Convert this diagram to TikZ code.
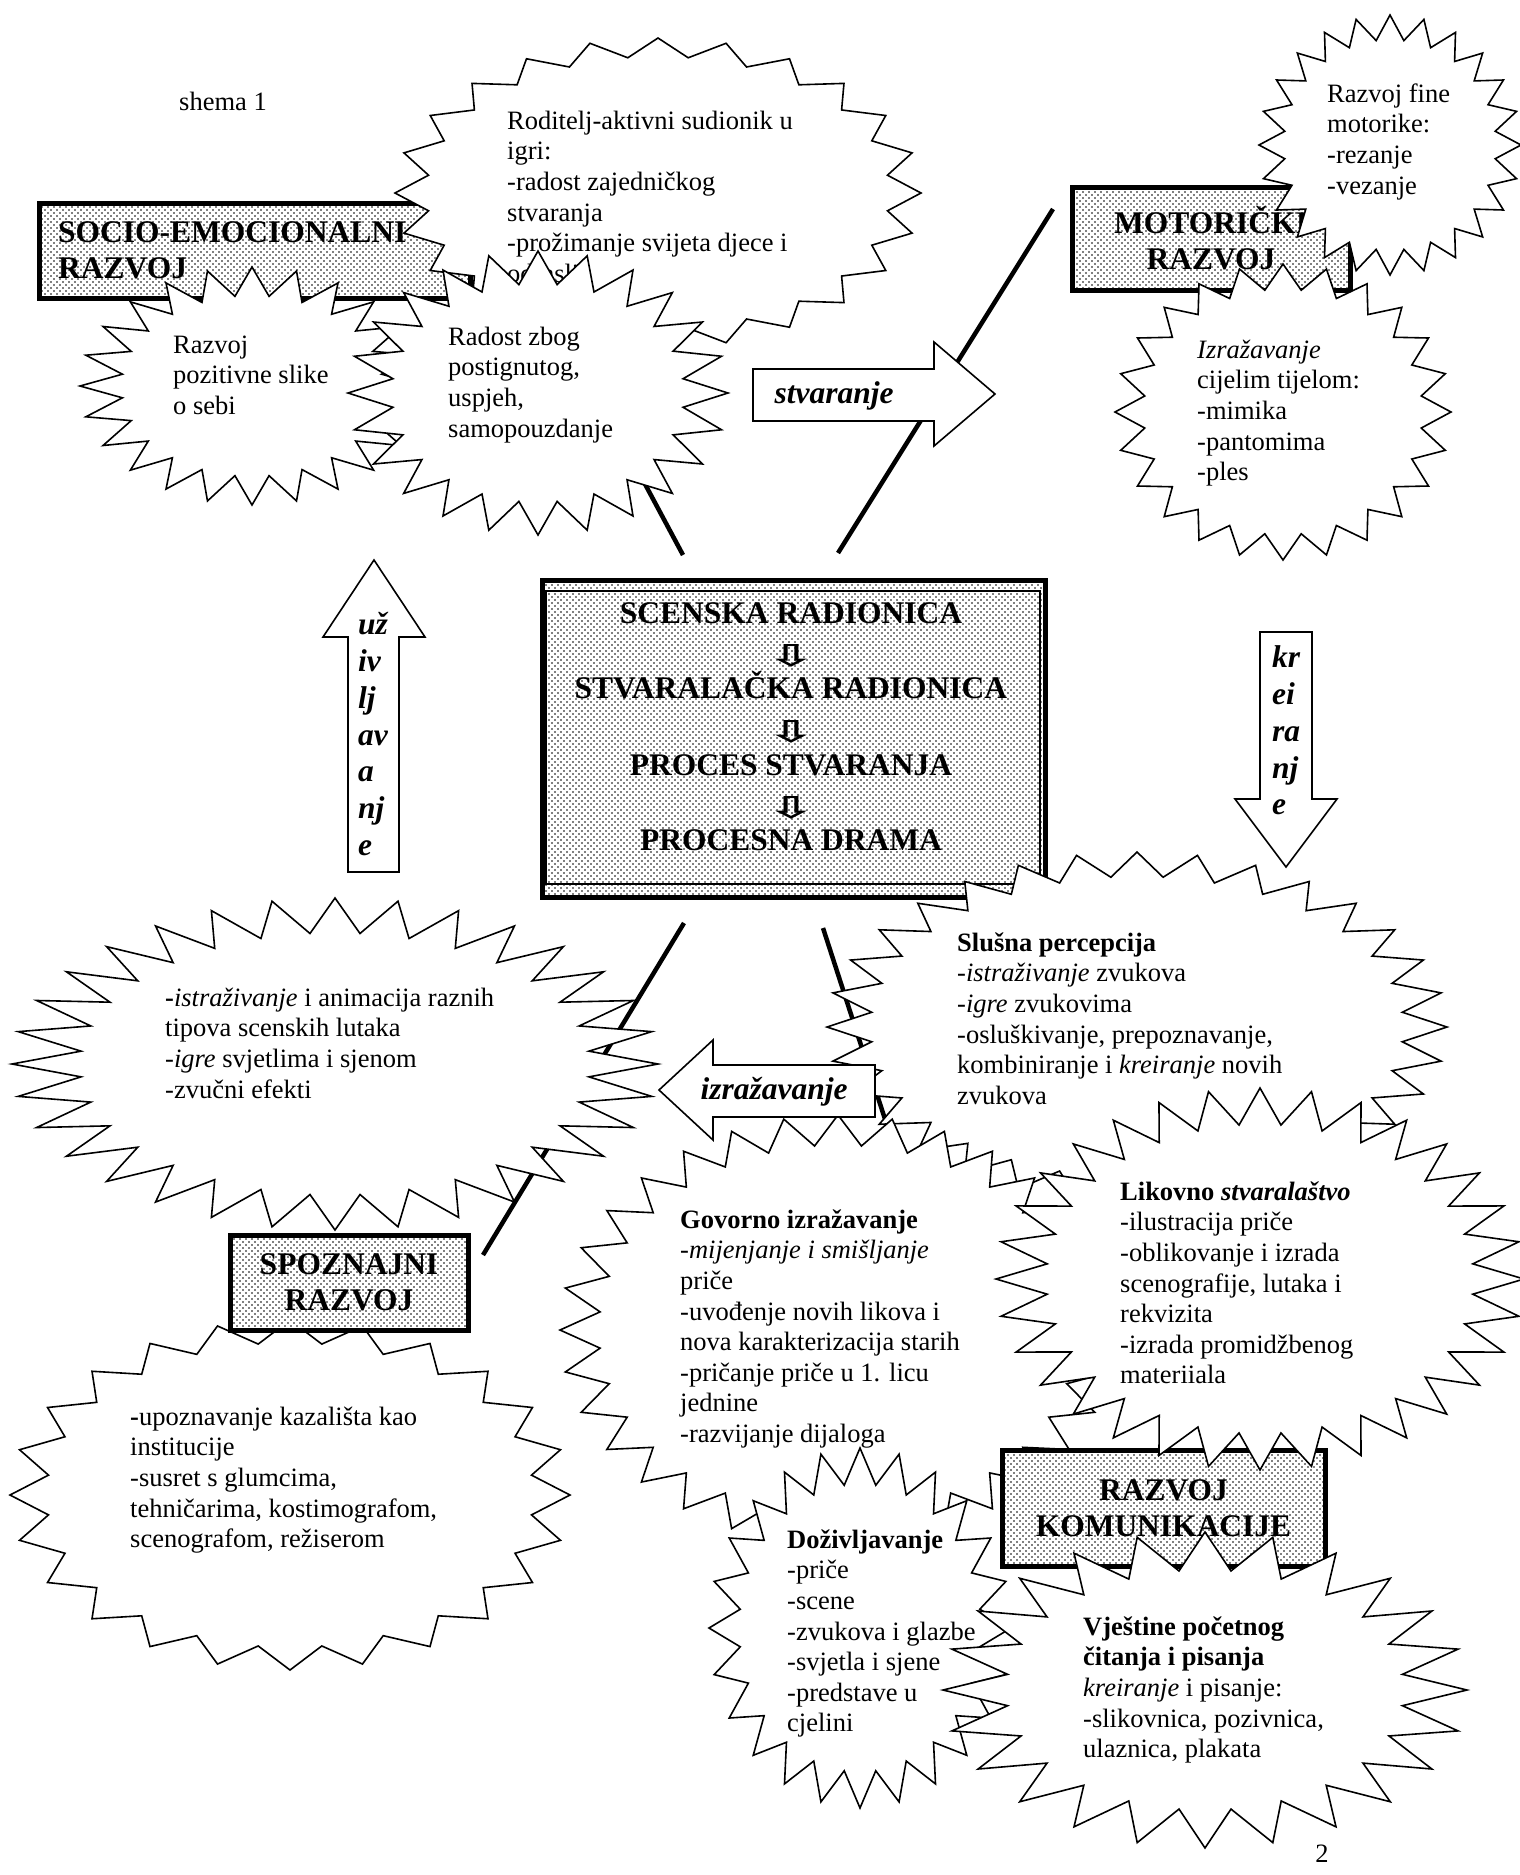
\documentclass[tikz,border=0pt]{standalone}
\usepackage{fontspec}
\setmainfont{Liberation Serif}
\newfontfamily\arrowfont{DejaVu Sans}
\usepackage{graphicx}
\usetikzlibrary{patterns}
\pgfdeclarepatternformonly{mydots}{\pgfqpoint{-1pt}{-1pt}}{\pgfqpoint{7pt}{7pt}}{\pgfqpoint{6pt}{6pt}}{%
  \pgfpathcircle{\pgfqpoint{0pt}{0pt}}{0.8pt}%
  \pgfpathcircle{\pgfqpoint{3pt}{3pt}}{0.8pt}%
  \pgfusepath{fill}}
\newcommand\bodyfont{\fontsize{26.5}{30.6}\selectfont}
\newcommand\titlefont{\fontsize{31.5}{36}\selectfont\bfseries}
\newcommand\arrowlabelfont{\fontsize{31.5}{36.7}\selectfont\bfseries\itshape}
\tikzset{
  burst/.style={draw=black, fill=white, line width=1.6pt, line join=miter},
  txt/.style={anchor=north west, inner sep=0pt, align=left, font=\bodyfont},
  dotbox/.style={draw=black, line width=5pt, preaction={fill=white}, pattern=mydots, pattern color=black, inner sep=0pt, align=center, font=\titlefont},
  blockarrow/.style={draw=black, fill=white, line width=1.6pt, line join=miter},
  link/.style={line width=4.5pt},
  arrowlabel/.style={inner sep=0pt, font=\arrowlabelfont},
  downglyph/.style={inner sep=0pt},
}
% cx cy rx ry points ratio
\newcommand\starburst[6]{%
  \pgfmathtruncatemacro\sbN{2*#5-1}%
  \draw[burst] plot[samples at={0,...,\sbN}, variable=\sbt]
    ({#1+#3*(1-(1-#6)*mod(\sbt,2))*cos(90-\sbt*180/#5)},
     {#2-#4*(1-(1-#6)*mod(\sbt,2))*sin(90-\sbt*180/#5)}) -- cycle;}
\newcommand\downarrowglyph{\resizebox{50pt}{22pt}{\arrowfont\bfseries ⇩}}
\begin{document}
\begin{tikzpicture}[x=1pt,y=-1pt]
\useasboundingbox (0,0) rectangle (1520,1875);
\fill[white] (0,0) rectangle (1520,1875);

% connector lines (drawn first, under everything)
\coordinate (fA) at (683,555); \coordinate (fB) at (600,400);
\coordinate (gA) at (838,553); \coordinate (gB) at (1053,209);
\coordinate (hA) at (684,923); \coordinate (hB) at (483,1255);
\coordinate (iA) at (823,928); \coordinate (iB) at (895,1150);
\draw[link] (fA) -- (fB);
\draw[link] (gA) -- (gB);
\draw[link] (hA) -- (hB);
\draw[link] (iA) -- (iB);

\node[anchor=base west, inner sep=0pt, font=\bodyfont] (shema) at (179,110) {shema 1};

% socio-emocionalni
\node[dotbox, anchor=north west, minimum width=431, minimum height=95] (socio) at (36.5,200.5) {};
\node[anchor=north west, inner sep=0pt, align=left, font=\titlefont] (sociotxt) at (58,217.3) {\strut SOCIO-EMOCIONALNI\\RAZVOJ};

\starburst{658}{193}{263}{155}{24}{0.88}
\node[txt] (roditelj) at (507,107.6) {\strut Roditelj-aktivni sudionik u\\igri:\\-radost zajedničkog\\stvaranja\\-prožimanje svijeta djece i\\odraslih};

\starburst{252}{386}{172}{119}{24}{0.76}
\node[txt] (pozitiv) at (173,331.6) {\strut Razvoj\\pozitivne slike\\o sebi};

\starburst{538}{393}{190}{142}{24}{0.77}
\node[txt] (radost) at (448,323.6) {\strut Radost zbog\\postignutog,\\uspjeh,\\samopouzdanje};

% motoricki
\node[dotbox, anchor=north west, minimum width=278, minimum height=103] (motor) at (1069.5,184.5) {MOTORIČKI\\RAZVOJ};

\starburst{1390}{145}{131}{130}{24}{0.81}
\node[txt] (fine) at (1327,80.6) {\strut Razvoj fine\\motorike:\\-rezanje\\-vezanje};

\starburst{1283}{412}{168}{148}{24}{0.83}
\node[txt] (tijelo) at (1197,336.6) {\strut\textit{Izražavanje}\\cijelim tijelom:\\-mimika\\-pantomima\\-ples};

% stvaranje arrow
\draw[blockarrow] (753,369) -- (934,369) -- (934,342) -- (995,394) -- (934,446) -- (934,421) -- (753,421) -- cycle;
\node[arrowlabel, anchor=base] (stvaranje) at (834,403) {stvaranje};

% uzivljavanje arrow
\draw[blockarrow] (348,872) -- (348,637) -- (323,637) -- (374,560) -- (425,637) -- (399,637) -- (399,872) -- cycle;
\node[arrowlabel, anchor=north west, align=left] (uziv) at (358,609) {\strut už\\iv\\lj\\av\\a\\nj\\e};

% central box
\node[dotbox, anchor=north west, minimum width=503, minimum height=317] (central) at (539.5,577.5) {};
\node[draw, line width=2pt, anchor=north west, minimum width=494, minimum height=293, inner sep=0pt] (centralin) at (545,590) {};
\node[anchor=base, inner sep=0pt, font=\titlefont] (t1) at (791,623.5) {SCENSKA RADIONICA};
\node[downglyph] (a1) at (791,656) {\downarrowglyph};
\node[anchor=base, inner sep=0pt, font=\titlefont] (t2) at (791,698.5) {STVARALAČKA RADIONICA};
\node[downglyph] (a2) at (791,732) {\downarrowglyph};
\node[anchor=base, inner sep=0pt, font=\titlefont] (t3) at (791,775.5) {PROCES STVARANJA};
\node[downglyph] (a3) at (791,808) {\downarrowglyph};
\node[anchor=base, inner sep=0pt, font=\titlefont] (t4) at (791,850.5) {PROCESNA DRAMA};

% kreiranje arrow
\draw[blockarrow] (1260,632) -- (1312,632) -- (1312,799) -- (1337,799) -- (1286,867) -- (1235,799) -- (1260,799) -- cycle;
\node[arrowlabel, anchor=north west, align=left] (kreir) at (1272,642) {\strut kr\\ei\\ra\\nj\\e};

% spoznajni
\starburst{335}{1064}{323}{166}{32}{0.79}
\node[txt] (istraz) at (165,984.6) {\strut\textbf{-}\textit{istraživanje} i animacija raznih\\tipova scenskih lutaka\\-\textit{igre} svjetlima i sjenom\\-zvučni efekti};

\starburst{290}{1495}{280}{175}{24}{0.87}
\node[txt] (upozn) at (130,1403.6) {\strut\textbf{-}upoznavanje kazališta kao\\institucije\\-susret s glumcima,\\tehničarima, kostimografom,\\scenografom, režiserom};

\node[dotbox, anchor=north west, minimum width=238, minimum height=95] (spoz) at (227.5,1232.5) {SPOZNAJNI\\RAZVOJ};

% komunikacija
\starburst{1137}{1027}{310}{175}{32}{0.86}
\node[txt] (slusna) at (957,929.6) {\strut\textbf{Slušna percepcija}\\-\textit{istraživanje} zvukova\\-\textit{igre} zvukovima\\-osluškivanje, prepoznavanje,\\kombiniranje i \textit{kreiranje} novih\\zvukova};

\starburst{838}{1330}{278}{215}{32}{0.86}
\node[txt] (govorno) at (680,1206.6) {\strut\textbf{Govorno izražavanje}\\\textit{-mijenjanje i smišljanje}\\priče\\-uvođenje novih likova i\\nova karakterizacija starih\\-pričanje priče u 1. licu\\jednine\\-razvijanje dijaloga};

\node[dotbox, anchor=north west, minimum width=323, minimum height=116] (komun) at (999.5,1447.5) {RAZVOJ\\KOMUNIKACIJE};

\starburst{1260}{1279}{264}{191}{32}{0.81}
\node[txt] (likovno) at (1120,1178.6) {\strut\textbf{Likovno \textit{stvaralaštvo}}\\-ilustracija priče\\-oblikovanje i izrada\\scenografije, lutaka i\\rekvizita\\-izrada promidžbenog\\materiiala};

% izrazavanje arrow
\draw[blockarrow] (875,1065) -- (713,1065) -- (713,1040) -- (659,1090) -- (713,1140) -- (713,1117) -- (875,1117) -- cycle;
\node[arrowlabel, anchor=base] (izraz) at (774,1099) {izražavanje};

\starburst{860}{1628}{151}{180}{24}{0.8}
\starburst{1205}{1690}{262}{158}{24}{0.76}
\node[txt] (doziv) at (787,1526.6) {\strut\textbf{Doživljavanje}\\-priče\\-scene\\-zvukova i glazbe\\-svjetla i sjene\\-predstave u\\cjelini};
\node[txt] (vjest) at (1083,1613.6) {\strut\textbf{Vještine početnog}\\\textbf{čitanja i pisanja}\\\textit{kreiranje} i pisanje:\\-slikovnica, pozivnica,\\ulaznica, plakata};

\node[inner sep=0pt, font=\bodyfont] (pagenum) at (1322,1854) {2};
\end{tikzpicture}
\end{document}
